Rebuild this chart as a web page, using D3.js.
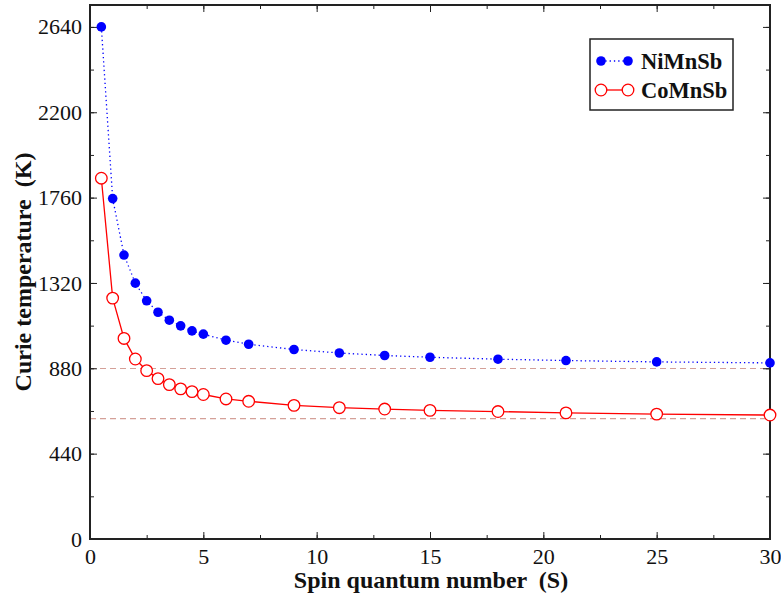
<!DOCTYPE html>
<html>
<head>
<meta charset="utf-8">
<script src="https://cdn.jsdelivr.net/npm/d3@7"></script>
<style>
  body { margin: 0; background: #fff; }
  svg text { font-family: "Liberation Serif", "Times New Roman", serif; fill: #111; }
</style>
</head>
<body>
<div id="chart"></div>
<script>
// data
const spin = [0.5, 1, 1.5, 2, 2.5, 3, 3.5, 4, 4.5, 5, 6, 7, 9, 11, 13, 15, 18, 21, 25, 30];
const niMnSb = [2640, 1755, 1464, 1319, 1228, 1169, 1128, 1099, 1073, 1056, 1025, 1004, 977, 959, 946, 937, 927, 920, 913, 908];
const coMnSb = [1860, 1242, 1034, 928, 868, 827, 796, 774, 760, 745, 722, 710, 689, 677, 670, 663, 657, 650, 644, 639];
const limits = [879, 621];
const xTicks = [0, 5, 10, 15, 20, 25, 30];
const yTicks = [0, 440, 880, 1320, 1760, 2200, 2640];

const width = 781, height = 599;
const plotLeft = 90, plotRight = 770, plotTop = 5, plotBottom = 539;

const svg = d3.select("#chart").append("svg")
  .attr("width", width)
  .attr("height", height)
  .style("display", "block");

const x = d3.scaleLinear().domain([0, 30]).range([plotLeft, plotRight]);
const y = d3.scaleLinear().domain([0, 2753]).range([plotBottom, plotTop]);

// dashed reference lines
svg.append("g")
  .selectAll("line")
  .data(limits)
  .join("line")
    .attr("x1", plotLeft).attr("x2", plotRight)
    .attr("y1", d => y(d)).attr("y2", d => y(d))
    .attr("stroke", "#d4a098")
    .attr("stroke-width", 1.2)
    .attr("stroke-dasharray", "6,4");

// axes, ticks pointing in
function addAxis(axis, tx, ty) {
  const g = svg.append("g").attr("transform", `translate(${tx},${ty})`).call(axis);
  g.select(".domain").remove();
  g.selectAll("line").attr("stroke", "#222");
  g.attr("font-family", null).attr("font-size", null);
  g.selectAll("text").style("font-size", "22px");
  return g;
}
const xMinor = d3.range(0, 30.1, 2.5);
const yMinor = d3.range(0, 2750, 220);

addAxis(d3.axisBottom(x).tickValues(xMinor).tickSize(-4).tickFormat(""), 0, plotBottom);
addAxis(d3.axisBottom(x).tickValues(xTicks).tickSize(-7).tickFormat(d3.format("d")).tickPadding(6), 0, plotBottom)
  .selectAll("text").attr("dy", "0.85em");
addAxis(d3.axisTop(x).tickValues(xMinor).tickSize(-4).tickFormat(""), 0, plotTop);
addAxis(d3.axisTop(x).tickValues(xTicks).tickSize(-7).tickFormat(""), 0, plotTop);

addAxis(d3.axisLeft(y).tickValues(yMinor).tickSize(-4).tickFormat(""), plotLeft, 0);
addAxis(d3.axisLeft(y).tickValues(yTicks).tickSize(-7).tickFormat(d3.format("d")).tickPadding(8), plotLeft, 0);
addAxis(d3.axisRight(y).tickValues(yMinor).tickSize(-4).tickFormat(""), plotRight, 0);
addAxis(d3.axisRight(y).tickValues(yTicks).tickSize(-7).tickFormat(""), plotRight, 0);

// frame
svg.append("rect")
  .attr("x", plotLeft).attr("y", plotTop)
  .attr("width", plotRight - plotLeft).attr("height", plotBottom - plotTop)
  .attr("fill", "none")
  .attr("stroke", "#222")
  .attr("stroke-width", 2);

// series
const ni = spin.map((s, i) => [s, niMnSb[i]]);
const co = spin.map((s, i) => [s, coMnSb[i]]);
const line = d3.line().x(d => x(d[0])).y(d => y(d[1]));

svg.append("path")
  .datum(ni)
  .attr("d", line)
  .attr("fill", "none")
  .attr("stroke", "#0000ff")
  .attr("stroke-width", 1.3)
  .attr("stroke-dasharray", "1.3,3");

svg.append("path")
  .datum(co)
  .attr("d", line)
  .attr("fill", "none")
  .attr("stroke", "#ff0000")
  .attr("stroke-width", 1.3);

svg.append("g")
  .selectAll("circle")
  .data(ni)
  .join("circle")
    .attr("cx", d => x(d[0]))
    .attr("cy", d => y(d[1]))
    .attr("r", 4.8)
    .attr("fill", "#0000ff");

svg.append("g")
  .selectAll("circle")
  .data(co)
  .join("circle")
    .attr("cx", d => x(d[0]))
    .attr("cy", d => y(d[1]))
    .attr("r", 5.8)
    .attr("fill", "#fff")
    .attr("stroke", "#ff0000")
    .attr("stroke-width", 1.3);

// legend
const legend = svg.append("g");
legend.append("rect")
  .attr("x", 590).attr("y", 39)
  .attr("width", 143).attr("height", 71)
  .attr("fill", "#fff")
  .attr("stroke", "#222")
  .attr("stroke-width", 1.5);

const legendItems = [
  { name: "NiMnSb", y: 61, color: "#0000ff", filled: true },
  { name: "CoMnSb", y: 90, color: "#ff0000", filled: false }
];
const li = legend.selectAll(".item")
  .data(legendItems)
  .join("g")
    .attr("class", "item");
li.append("line")
  .attr("x1", 601).attr("x2", 628)
  .attr("y1", d => d.y).attr("y2", d => d.y)
  .attr("stroke", d => d.color)
  .attr("stroke-width", 1.3)
  .attr("stroke-dasharray", d => d.filled ? "1.3,3" : null);
li.selectAll("circle")
  .data(d => [601, 628].map(cx => ({ cx, d })))
  .join("circle")
    .attr("cx", e => e.cx)
    .attr("cy", e => e.d.y)
    .attr("r", e => e.d.filled ? 4.8 : 5.8)
    .attr("fill", e => e.d.filled ? e.d.color : "#fff")
    .attr("stroke", e => e.d.filled ? "none" : e.d.color)
    .attr("stroke-width", 1.3);
li.append("text")
  .attr("x", 641)
  .attr("y", d => d.y)
  .attr("dy", "0.35em")
  .style("font-size", "22.5px")
  .style("font-weight", "bold")
  .text(d => d.name);

// axis titles
svg.append("text")
  .attr("x", 431)
  .attr("y", 588)
  .attr("text-anchor", "middle")
  .style("font-size", "24px")
  .style("font-weight", "bold")
  .style("white-space", "pre")
  .text("Spin quantum number  (S)");

svg.append("text")
  .attr("transform", `translate(31,${(plotTop + plotBottom) / 2}) rotate(-90)`)
  .attr("text-anchor", "middle")
  .style("font-size", "24px")
  .style("font-weight", "bold")
  .style("white-space", "pre")
  .text("Curie temperature  (K)");
</script>
</body>
</html>
